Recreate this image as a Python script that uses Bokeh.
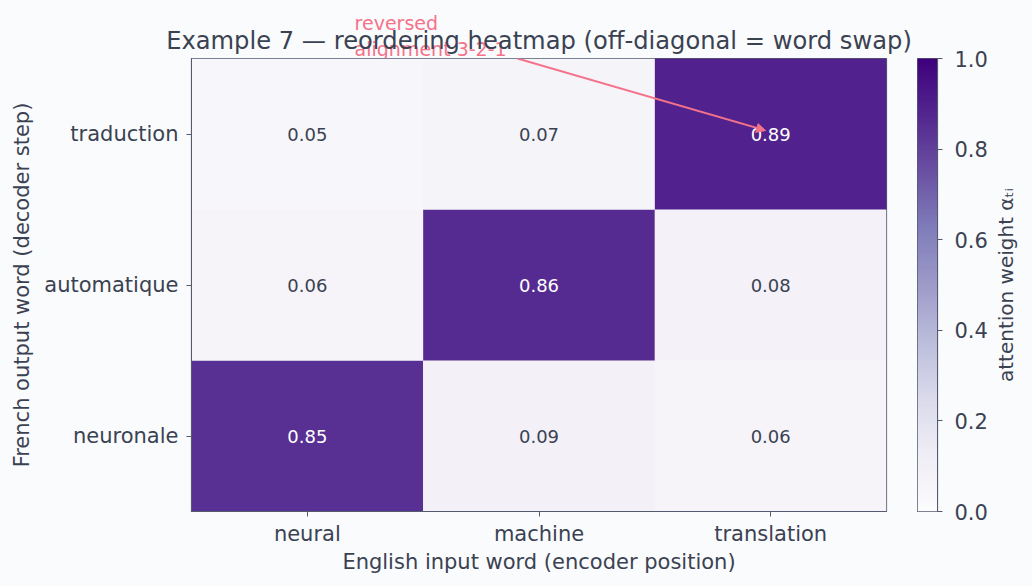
import numpy as np
from bokeh.plotting import figure
from bokeh.layouts import row, column
from bokeh.models import (ColumnDataSource, LinearColorMapper, FixedTicker, Arrow,
                          NormalHead, NumeralTickFormatter, Range1d)
from bokeh.palettes import Purples256
from bokeh.embed import file_html
from bokeh.resources import INLINE

# ---- data ----
x_words = ["neural", "machine", "translation"]          # English input (encoder position)
y_words = ["neuronale", "automatique", "traduction"]    # French output (decoder step), bottom->top
weights = [
    [0.85, 0.09, 0.06],   # neuronale
    [0.06, 0.86, 0.08],   # automatique
    [0.05, 0.07, 0.89],   # traduction
]
cbar_ticks = [0.0, 0.2, 0.4, 0.6, 0.8, 1.0]
title_text = "Example 7 — reordering heatmap (off-diagonal = word swap)"
note_text = "reversed\nalignment 3-2-1"
cbar_label = "attention weight αₜᵢ"

BG = "#fafbfd"
TXT = "#3a4252"
SPINE = "#555a6e"
ANN = "#f4728a"
FONT = "DejaVu Sans"

# layout geometry (pixels)
W, H = 1032, 586
TOP = 58                 # strip above the heatmap (title + note)
LEFT, FRAME_W = 191, 695
BOTTOM = 75
MAIN_W = 917             # main figure (and strip) width; colorbar starts here
CB_W = 20
CB_FIG_W = 73            # colorbar bar + tick labels
LBL_FIG_W = W - MAIN_W - CB_FIG_W
FRAME_H = H - TOP - BOTTOM
nx, ny = len(x_words), len(y_words)
px_x = FRAME_W / nx      # pixels per data unit (x)
px_y = FRAME_H / ny      # pixels per data unit (y)

palette = list(reversed(Purples256))
mapper = LinearColorMapper(palette=palette, low=0.0, high=1.0)

xs, ys, vals, labels, tcolors = [], [], [], [], []
for j, yw in enumerate(y_words):
    for i, xw in enumerate(x_words):
        v = weights[j][i]
        xs.append(i + 0.5)
        ys.append(j + 0.5)
        vals.append(v)
        labels.append(f"{v:.2f}")
        tcolors.append("white" if v > 0.5 else TXT)
src = ColumnDataSource(dict(x=xs, y=ys, v=vals, label=labels, tc=tcolors))


def base_style(fig):
    fig.styles = {"background-color": BG}
    fig.background_fill_color = BG
    fig.border_fill_color = BG
    fig.grid.visible = False


# ---- top strip: title and note share the heatmap's data coordinates ----
top = figure(width=MAIN_W, height=TOP, output_backend="svg", toolbar_location=None,
             x_range=Range1d(-LEFT / px_x, (MAIN_W - LEFT) / px_x),
             y_range=Range1d(ny, ny + TOP / px_y),
             x_axis_type=None, y_axis_type=None,
             min_border_left=0, min_border_right=0, min_border_top=0, min_border_bottom=0)
base_style(top)
top.outline_line_color = None
top.text(x=[0.704], y=[ny + 22.5 / px_y], text=[note_text], text_align="left",
         text_baseline="middle", text_color=ANN, text_font={"value": FONT},
         text_font_size="19px", text_line_height=1.2)
top.text(x=[nx / 2], y=[ny + 18 / px_y], text=[title_text], text_align="center",
         text_baseline="middle", text_color=TXT, text_font={"value": FONT},
         text_font_size="24.2px")

# ---- main heatmap ----
p = figure(width=MAIN_W, height=H - TOP, x_range=Range1d(0, nx), y_range=Range1d(0, ny),
           output_backend="svg", toolbar_location=None,
           min_border_left=LEFT, min_border_right=MAIN_W - LEFT - FRAME_W,
           min_border_top=0, min_border_bottom=BOTTOM)
base_style(p)
p.outline_line_color = SPINE
p.outline_line_width = 1.2

p.rect(x="x", y="y", width=1, height=1, source=src,
       fill_color={"field": "v", "transform": mapper}, line_color=None)
p.text(x="x", y="y", text="label", source=src, text_color="tc",
       text_align="center", text_baseline="middle", text_font_size="18px",
       text_font={"value": FONT})

for ax, words in ((p.xaxis, x_words), (p.yaxis, y_words)):
    ax.ticker = FixedTicker(ticks=[k + 0.5 for k in range(len(words))])
    ax.major_label_overrides = {k + 0.5: w for k, w in enumerate(words)}
    ax.minor_tick_line_color = None
    ax.major_tick_in = 0
    ax.major_tick_out = 5
    ax.major_tick_line_color = SPINE
    ax.axis_line_color = SPINE
    ax.major_label_text_font = FONT
    ax.major_label_text_font_size = "21px"
    ax.major_label_text_color = TXT
    ax.axis_label_text_font = FONT
    ax.axis_label_text_font_size = "21px"
    ax.axis_label_text_font_style = "normal"
    ax.axis_label_text_color = TXT
p.xaxis.axis_label = "English input word (encoder position)"
p.yaxis.axis_label = "French output word (decoder step)"
p.xaxis.major_label_standoff = 5
p.yaxis.major_label_standoff = 8
p.xaxis.axis_label_standoff = 1
p.yaxis.axis_label_standoff = 7

# annotation arrow (reversed alignment), from the top edge to the 0.89 cell
tx = x_words.index("translation") + 0.5
ty = y_words.index("traduction") + 0.5
p.add_layout(Arrow(end=NormalHead(size=9, fill_color=ANN, line_color=ANN),
                   x_start=1.407, y_start=ny, x_end=tx - 0.022, y_end=ty + 0.023,
                   line_color=ANN, line_width=2, level="overlay"))

# ---- colorbar as a small full-height figure ----
c = figure(width=CB_FIG_W, height=H, x_range=Range1d(0, 1), y_range=Range1d(0, 1),
           output_backend="svg", toolbar_location=None, y_axis_location="right",
           min_border_left=0, min_border_right=CB_FIG_W - CB_W,
           min_border_top=TOP, min_border_bottom=BOTTOM)
base_style(c)
c.outline_line_color = SPINE
c.outline_line_width = 1.2
c.xaxis.visible = False
c.image(image=[np.linspace(0, 1, 256).reshape(-1, 1)], x=0, y=0, dw=1, dh=1, color_mapper=mapper)
ya = c.yaxis[0]
ya.ticker = FixedTicker(ticks=cbar_ticks)
ya.formatter = NumeralTickFormatter(format="0.0")
ya.minor_tick_line_color = None
ya.major_tick_in = 0
ya.major_tick_out = 5
ya.major_tick_line_color = SPINE
ya.axis_line_color = SPINE
ya.major_label_text_font = FONT
ya.major_label_text_font_size = "21px"
ya.major_label_text_color = TXT
ya.major_label_standoff = 12

# ---- colorbar label: left axis of a narrow figure (reads bottom-to-top) ----
d = figure(width=LBL_FIG_W, height=H, x_range=Range1d(0, 1), y_range=Range1d(0, 1),
           output_backend="svg", toolbar_location=None,
           min_border_left=22, min_border_right=0,
           min_border_top=TOP, min_border_bottom=BOTTOM)
base_style(d)
d.outline_line_color = None
d.xaxis.visible = False
la = d.yaxis[0]
la.ticker = FixedTicker(ticks=[])
la.axis_line_color = None
la.major_tick_line_color = None
la.minor_tick_line_color = None
la.major_label_text_font_size = "1px"
la.axis_label = cbar_label
la.axis_label_standoff = 0
la.axis_label_text_font = FONT
la.axis_label_text_font_size = "20px"
la.axis_label_text_font_style = "normal"
la.axis_label_text_color = TXT

# wrapping p in its own row keeps the strip's frame independent of p's frame
layout = row(column(top, row(p)), c, d)
open("out.html", "w").write(file_html(layout, INLINE))
